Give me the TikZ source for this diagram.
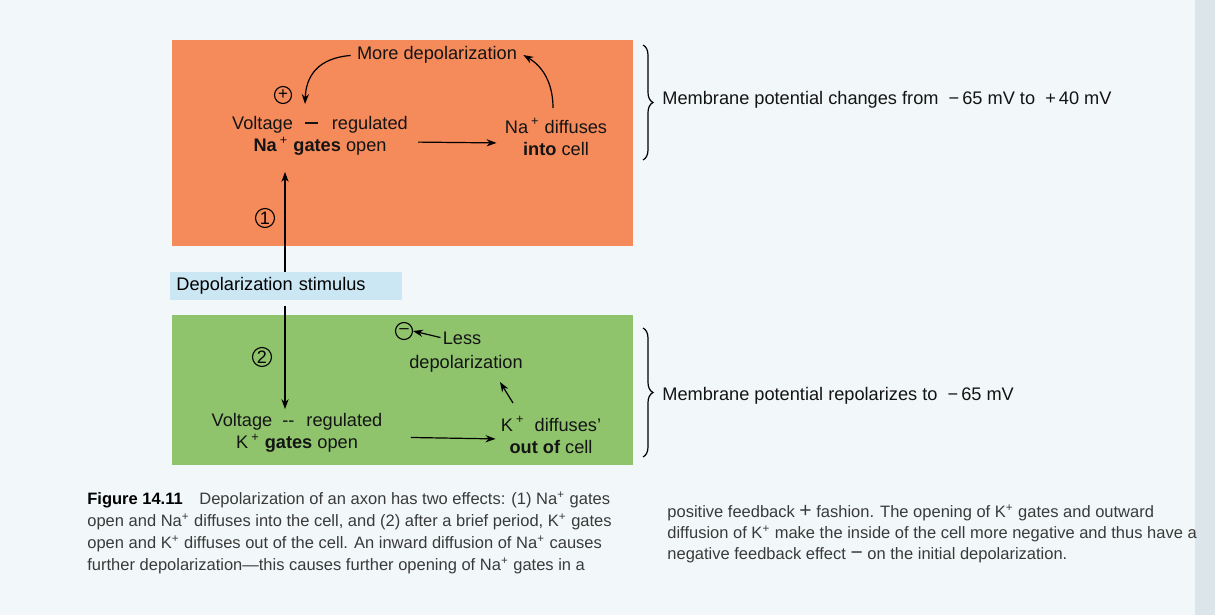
\documentclass[tikz,border=0pt]{standalone}
\usepackage{fontspec}
\setmainfont{Liberation Sans}
\usetikzlibrary{decorations.pathreplacing,arrows.meta}
\definecolor{bg}{HTML}{F2F8F9}
\definecolor{orangebox}{HTML}{F58A5B}
\definecolor{greenbox}{HTML}{8FC46D}
\definecolor{stimblue}{HTML}{CBE7F4}
\definecolor{captiongray}{HTML}{3A3A3A}
\definecolor{edgegray}{HTML}{DCE5E9}
\newcommand{\mydash}{\raisebox{2.9pt}{\rule{6.5pt}{0.7pt}}}
\begin{document}
\begin{tikzpicture}[x=0.5pt,y=-0.5pt,
  lbl/.style={font=\fontsize{9.1}{11}\selectfont, align=center, inner sep=0pt, text=black!92},
  captxt/.style={font=\fontsize{8.25}{9}\selectfont, anchor=base west, inner sep=0pt, text=captiongray},
  arr/.style={-{Stealth[length=5pt,width=3.6pt]}, line width=0.6pt},
  num/.style={circle, draw, line width=0.55pt, inner sep=0.5pt, font=\fontsize{9}{9}\selectfont, minimum size=9.5pt},
  sgn/.style={circle, draw, line width=0.55pt, inner sep=0.5pt, font=\fontsize{8.5}{8.5}\selectfont, minimum size=8.5pt},
  brc/.style={decorate, decoration={brace, amplitude=5pt}, line width=0.6pt},
  ]
\fill[bg] (0,0) rectangle (1215,615);
\useasboundingbox (0,0) rectangle (1215,615);
\fill[edgegray] (1195,0) rectangle (1215,615);
\fill[orangebox] (172,40) rectangle (633,246);
\fill[greenbox] (172,315) rectangle (633,465);

\node[fill=stimblue, anchor=west, inner xsep=3pt, inner ysep=0pt, minimum height=14pt, text width=110pt, align=left, font=\fontsize{9.1}{11}\selectfont] (stim) at (170,286) {Depolarization stimulus};

% upper box
\node[lbl] (more) at (437,55) {More depolarization};
\node[sgn] (plus) at (283,95) {+};
\node[lbl] (vna) at (320,136) {Voltage\hspace{6pt}\mydash\hspace{7pt}regulated\\\textbf{Na}\,\textsuperscript{+}\ \textbf{gates} open};
\node[lbl] (dna) at (556,137) {Na\,\textsuperscript{+} diffuses\\\textbf{into} cell};
\node[num] (one) at (265,218) {1};
\coordinate (ax) at (285,0);
\coordinate (t1) at (305,104);
\coordinate (s2) at (553,108);
\draw[arr, shorten <=3pt] (more.west) .. controls (318,58) and (306,76) .. (t1);
\draw[arr] (s2) .. controls (553,82) and (542,66) .. ([xshift=3pt]more.east);
\draw[arr, shorten <=5pt, shorten >=4pt] ([yshift=-3pt]vna.east) -- ([yshift=-3pt]dna.west);
\draw[arr, shorten >=8pt] (stim.north -| ax) -- (vna.south -| ax);

% lower box
\node[num] (two) at (262,357) {2};
\node[sgn] (minus) at (404,331) {–};
\node[lbl] (less1) at (462,338) {Less};
\node[lbl] (less2) at (466,364) {depolarization};
\node[lbl] (vk) at (297,433) {Voltage\hspace{5pt}-{}-\hspace{6pt}regulated\\K\,\textsuperscript{+}\ \textbf{gates} open};
\node[lbl] (dk) at (551,435) {K\,\textsuperscript{+}\ \ diffuses'\\\textbf{out of} cell};
\coordinate (s3) at (513,403);
\coordinate (t3) at (500,382);
\draw[arr, shorten <=1pt] (less1.west) -- (minus.east);
\draw[arr] (s3) -- (t3);
\draw[arr, shorten <=14pt, shorten >=2.5pt] ([yshift=-2pt]vk.east) -- ([yshift=-2pt]dk.west);
\draw[arr, shorten <=3pt, shorten >=2pt] (stim.south -| ax) -- (vk.north -| ax);

% braces
\coordinate (b1t) at (643,45);
\coordinate (b1b) at (643,160);
\coordinate (b2t) at (643,328);
\coordinate (b2b) at (643,457);
\draw[brc] (b1t) -- (b1b);
\draw[brc] (b2t) -- (b2b);
\node[lbl, anchor=west] (mem1) at (662,100) {Membrane potential changes from \ −\,65 mV to \ +\,40 mV};
\node[lbl, anchor=west] (mem2) at (662,396) {Membrane potential repolarizes to \ −\,65 mV};

% caption
\node[captxt] (c1) at (87,504) {\textcolor{black}{\textbf{Figure 14.11}}\hspace{6pt} Depolarization of an axon has two effects: (1) Na\textsuperscript{+} gates};
\node[captxt] (c2) at (87,526) {open and Na\textsuperscript{+} diffuses into the cell, and (2) after a brief period, K\textsuperscript{+} gates};
\node[captxt] (c3) at (87,548) {open and K\textsuperscript{+} diffuses out of the cell. An inward diffusion of Na\textsuperscript{+} causes};
\node[captxt] (c4) at (87,570) {further depolarization—this causes further opening of Na\textsuperscript{+} gates in a};
\node[captxt] (c5) at (667,517) {positive feedback {\fontsize{10.5}{10}\selectfont +} fashion. The opening of K\textsuperscript{+} gates and outward};
\node[captxt] (c6) at (667,538) {diffusion of K\textsuperscript{+} make the inside of the cell more negative and thus have a};
\node[captxt] (c7) at (667,559) {negative feedback effect {\fontsize{10.5}{10}\selectfont −} on the initial depolarization.};
\end{tikzpicture}
\end{document}
